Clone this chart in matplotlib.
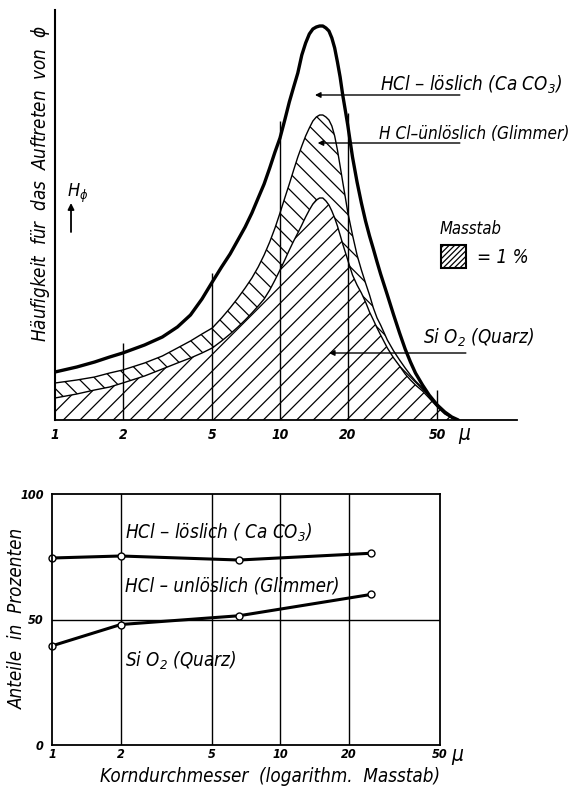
import numpy as np
import matplotlib
matplotlib.use("Agg")
import matplotlib.pyplot as plt
from matplotlib import font_manager as fm
from matplotlib.patches import Rectangle

# schmale Schrift suchen (Normschrift-Ersatz)
schrift = ['Liberation Sans', 'DejaVu Sans']
stretch = 'normal'
groesse = 12.5
try:
    p = fm.findfont(fm.FontProperties(family='Liberation Sans Narrow', style='italic'),
                    fallback_to_default=False)
    if 'Narrow' in p:
        schrift = ['Liberation Sans Narrow', 'DejaVu Sans']
        groesse = 14
except Exception:
    pass
if groesse != 14:
    p = fm.findfont(fm.FontProperties(family='DejaVu Sans', style='italic', stretch='condensed'))
    if 'Condensed' in p:
        schrift = ['DejaVu Sans', 'Liberation Sans']
        stretch = 'condensed'
        groesse = 13.5

plt.rcParams['font.family'] = schrift
plt.rcParams['font.style'] = 'italic'
plt.rcParams['font.stretch'] = stretch
plt.rcParams['hatch.linewidth'] = 0.9

# Kornverteilung (oben): Korndurchmesser in mu, Haeufigkeit in willk. Einheiten
d = [1, 1.25, 1.5, 1.75, 2, 2.5, 3, 3.5, 4, 4.5, 5, 5.5, 6, 6.5, 7, 7.5, 8, 8.5,
     9, 9.5, 10, 10.5, 11, 11.5, 12, 12.5, 13, 13.5, 14, 14.5, 15, 15.5, 16,
     16.5, 17, 17.5, 18, 18.5, 19, 19.5, 20, 21, 22, 23, 24, 25, 26, 27, 28,
     30, 32, 34, 36, 38, 40, 43, 46, 50, 54, 58, 62]
h_gesamt = [48, 53, 58, 63, 67, 75, 83, 93, 105, 121, 138, 153, 166, 180, 193,
            207, 222, 236, 252, 268, 282, 300, 318, 333, 347, 365, 377, 386,
            391, 393, 394, 394, 392, 389, 382, 372, 358, 343, 325, 310, 295,
            263, 238, 217, 199, 184, 171, 158, 146, 125, 105, 87, 71, 58, 47,
            35, 25, 15, 8, 3, 0]
h_glimmer = [37, 40, 43, 47, 50, 57, 64, 72, 79, 86, 92, 102, 112, 122, 132,
             142, 153, 165, 178, 192, 207, 222, 236, 250, 263, 274, 284, 292,
             299, 303, 305, 305, 303, 300, 294, 284, 270, 254, 238, 223, 208,
             185, 165, 150, 137, 125, 112, 102, 95, 80, 69, 60, 52, 45, 39, 32,
             24, 15, 7, 2, 0]
h_quarz = [22, 26, 30, 33, 37, 44, 51, 57, 62, 67, 72, 79, 86, 93, 100, 107,
           114, 121, 130, 140, 150, 160, 170, 179, 187, 195, 203, 210, 216,
           220, 222, 222, 219, 215, 209, 202, 194, 185, 176, 168, 160, 145,
           135, 127, 118, 108, 100, 92, 85, 72, 62, 54, 46, 40, 35, 29, 22, 13,
           6, 2, 0]

ticks = [1, 2, 5, 10, 20, 50]
tick_labels = ['1', '2', '5', '10', '20', '50']
# Hoehe der Hilfslinien im oberen Bild
hilfslinien_x = [2, 5, 10, 20, 50]
hilfslinien_h = [77, 147, 299, 307, 30]

# Anteile (unten)
d_anteil = [1, 2, 6.6, 25]
grenze_caco3 = [74.5, 75.3, 73.7, 76.4]
grenze_quarz = [39.5, 48.0, 51.5, 60.0]

fig = plt.figure(figsize=(5.86, 7.88), dpi=100)

# ---------------- oberes Bild ----------------
ax = fig.add_axes([55/586, 1-420/788, 531/586, 410/788])
ax.set_xscale('log')
ax.set_xlim(1, 10**(531/225))
ax.set_ylim(0, 410)

ax.fill_between(d, 0, h_quarz, facecolor='white', edgecolor='black',
                hatch='//', linewidth=0)
ax.fill_between(d, h_quarz, h_glimmer, facecolor='white', edgecolor='black',
                hatch='\\\\', linewidth=0)
ax.plot(d, h_quarz, color='black', lw=1.0)
ax.plot(d, h_glimmer, color='black', lw=1.0)
ax.plot(d, h_gesamt, color='black', lw=2.4, solid_capstyle='round')

ax.vlines(hilfslinien_x, 0, hilfslinien_h, color='black', lw=1.0)

for s in ['top', 'right']:
    ax.spines[s].set_visible(False)
ax.spines['left'].set_linewidth(1.5)
ax.spines['bottom'].set_linewidth(1.3)
ax.spines['bottom'].set_bounds(1, 10**(462/225))
ax.set_yticks([])
ax.set_xticks(ticks)
ax.set_xticklabels(tick_labels, fontsize=10, fontweight='bold')
ax.xaxis.set_minor_locator(matplotlib.ticker.NullLocator())
ax.tick_params(axis='x', length=0, pad=6)
ax.text(62, -14, 'μ', fontsize=15, va='center', ha='left')

lab = dict(fontsize=groesse, color='black')
pfeil = dict(arrowstyle='-|>', lw=1.0, color='black', mutation_scale=8,
             shrinkA=0, shrinkB=0)
ax.text(27.8, 329, 'HCl – löslich (Ca CO$_3$)', va='baseline', ha='left', **lab)
ax.annotate('', xy=(14.3, 325), xytext=(63, 325), arrowprops=pfeil)
ax.text(27.5, 281, 'H Cl–ünlöslich (Glimmer)', va='baseline', ha='left',
        fontsize=groesse - 1.2)
ax.annotate('', xy=(14.7, 277), xytext=(63, 277), arrowprops=pfeil)
ax.text(43, 76, 'Si O$_2$ (Quarz)', va='baseline', ha='left', **lab)
ax.annotate('', xy=(16.5, 67), xytext=(67, 67), arrowprops=pfeil)

ax.text(51.4, 186, 'Masstab', va='baseline', ha='left', fontsize=groesse - 1.5)
ax.add_patch(Rectangle(((441-55)/531, 152/410), 25/531, 23/410,
                       transform=ax.transAxes, facecolor='white',
                       edgecolor='black', hatch='//////', lw=1.5))
ax.text(75, 163, '= 1 %', va='center', ha='left', fontsize=groesse)

ax.text(1.13, 223, 'H$_\\phi$', va='baseline', ha='left', fontsize=13)
ax.annotate('', xy=(1.178, 217), xytext=(1.178, 188),
            arrowprops=dict(arrowstyle='-|>', lw=1.3, color='black',
                            mutation_scale=9, shrinkA=0, shrinkB=0))

fig.text(41/586, 1-184/788, 'Häufigkeit  für  das  Auftreten  von  $\\phi$',
         rotation=90, ha='center', va='center', fontsize=groesse)

# ---------------- unteres Bild ----------------
bx = fig.add_axes([52/586, 1-745/788, 388/586, 251/788])
bx.set_xscale('log')
bx.set_xlim(1, 50)
bx.set_ylim(0, 100)
for v in [2, 5, 10, 20]:
    bx.axvline(v, color='black', lw=1.0)
bx.axhline(50, color='black', lw=1.0)
for s in bx.spines.values():
    s.set_linewidth(1.3)

bx.plot(d_anteil, grenze_caco3, color='black', lw=2.2, marker='o', ms=5,
        mfc='white', mec='black', mew=1.0, clip_on=False)
bx.plot(d_anteil, grenze_quarz, color='black', lw=2.2, marker='o', ms=5,
        mfc='white', mec='black', mew=1.0, clip_on=False)

bx.set_xticks(ticks)
bx.set_xticklabels(tick_labels, fontsize=9, fontweight='bold')
bx.xaxis.set_minor_locator(matplotlib.ticker.NullLocator())
bx.set_yticks([0, 50, 100])
bx.set_yticklabels(['0', '50', '100'], fontsize=9, fontweight='bold')
bx.tick_params(axis='x', length=0, pad=2)
bx.tick_params(axis='y', length=0, pad=6)
bx.text(56, -4, 'μ', fontsize=15, va='center', ha='left', clip_on=False)

bx.text(2.08, 82, 'HCl – löslich ( Ca CO$_3$)', va='baseline', ha='left', **lab)
bx.text(2.08, 61, 'HCl – unlöslich (Glimmer)', va='baseline', ha='left', **lab)
bx.text(2.08, 31, 'Si O$_2$ (Quarz)', va='baseline', ha='left', **lab)

fig.text(17/586, 1-618/788, 'Anteile  in  Prozenten', rotation=90,
         ha='center', va='center', fontsize=groesse)
fig.text(270/586, 1-777/788, 'Korndurchmesser  (logarithm.  Masstab)',
         ha='center', va='center', fontsize=groesse)

fig.savefig('out.png', dpi=100)
